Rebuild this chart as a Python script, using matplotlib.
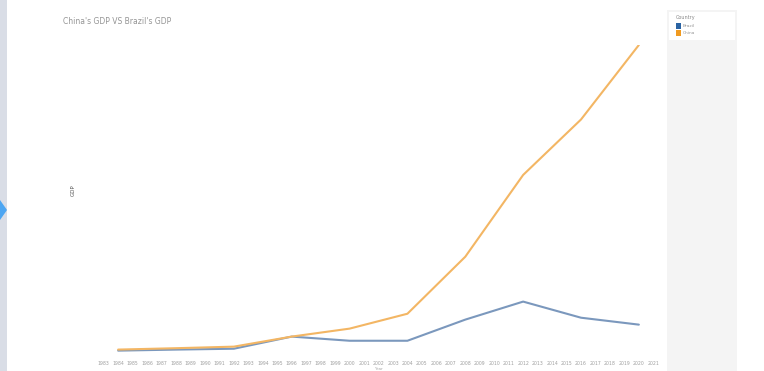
import numpy as np
import matplotlib.pyplot as plt
from matplotlib.patches import Rectangle, Polygon

# year labels along the category axis
years = [str(y) for y in range(1983, 2022)]

# GDP (trillion US$), one reading every four years
data_years = ["1984", "1988", "1992", "1996", "2000", "2004", "2008", "2012", "2016", "2020"]
china = [0.12, 0.20, 0.29, 0.87, 1.33, 2.19, 5.48, 10.2, 13.4, 17.7]
brazil = [0.06, 0.12, 0.17, 0.87, 0.63, 0.63, 1.85, 2.89, 1.96, 1.56]

countries = ["Brazil", "China"]
colors = {"Brazil": "#7b98bd", "China": "#f3b664"}

fig = plt.figure(figsize=(7.64, 3.71), dpi=100)
fig.patch.set_facecolor("white")

# left side bar with the collapse arrow
fig.add_artist(Rectangle((0, 0), 7 / 764, 1, transform=fig.transFigure,
                         facecolor="#d9dde6", edgecolor="none"))
fig.add_artist(Polygon([(0, 1 - 200 / 371), (7 / 764, 1 - 210 / 371), (0, 1 - 220 / 371)],
                       closed=True, transform=fig.transFigure,
                       facecolor="#4da6f2", edgecolor="none"))

# legend panel on the right
fig.add_artist(Rectangle((667 / 764, 0), 70 / 764, 1 - 10 / 371, transform=fig.transFigure,
                         facecolor="#f4f4f4", edgecolor="none"))
fig.add_artist(Rectangle((669 / 764, 1 - 40 / 371), 66 / 764, 28 / 371, transform=fig.transFigure,
                         facecolor="white", edgecolor="none"))
fig.text(676 / 764, 1 - 17 / 371, "Country", fontsize=3.5, color="#888888", va="center")
for i, c in enumerate(countries):
    yy = 1 - (26 + i * 7) / 371
    fig.add_artist(Rectangle((676 / 764, yy - 2.5 / 371), 5 / 764, 5 / 371,
                             transform=fig.transFigure,
                             facecolor="#2a63a3" if c == "Brazil" else "#f09a20",
                             edgecolor="none"))
    fig.text(683 / 764, yy, c, fontsize=3.2, color="#999999", va="center")

fig.text(63 / 764, 1 - 21 / 371, "China's GDP VS Brazil's GDP", fontsize=5.5,
         color="#959595", va="center")

ax = fig.add_axes([95 / 764, 1 - 356 / 371, 567 / 764, 311 / 371])
xpos = [years.index(y) for y in data_years]
ax.plot(xpos, brazil, color=colors["Brazil"], lw=1.5, solid_capstyle="round")
ax.plot(xpos, china, color=colors["China"], lw=1.5, solid_capstyle="round")

ax.set_xlim(-0.6, len(years) - 0.4)
ax.set_ylim(-0.25, 17.7)
ax.set_xticks(range(len(years)))
ax.set_xticklabels(years, fontsize=3.3, color="#a0a0a0")
ax.tick_params(axis="x", length=0, pad=3.5)
ax.set_yticks([])
for s in ax.spines.values():
    s.set_visible(False)

ax.set_xlabel("Year", fontsize=3, color="#a8a8a8", labelpad=0.5)
fig.text(73 / 764, 1 - 190 / 371, "GDP", fontsize=4, color="#555555",
         rotation=90, va="center", ha="center")

fig.savefig("out.png", dpi=100)
